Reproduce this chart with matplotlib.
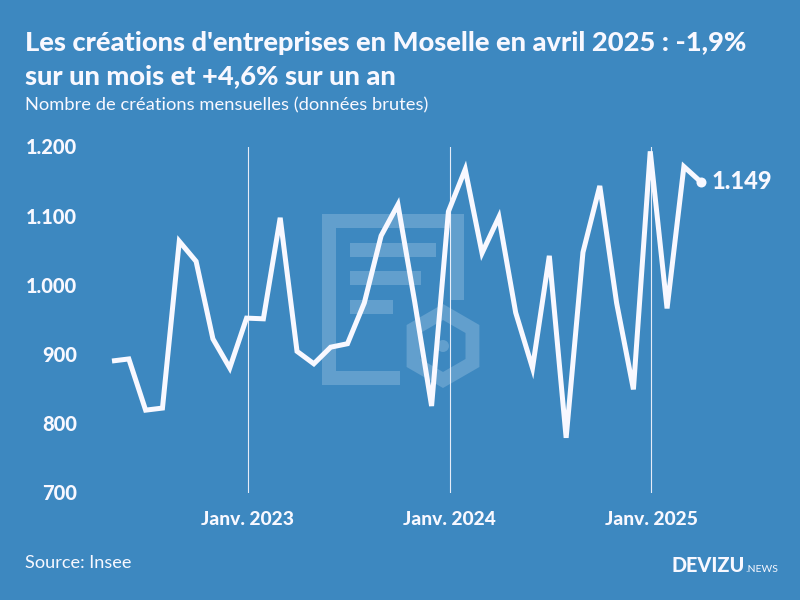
import matplotlib
matplotlib.use("Agg")
import matplotlib.pyplot as plt
from matplotlib.patches import Polygon, Rectangle, RegularPolygon, Circle
import numpy as np

months = ["2022-05", "2022-06", "2022-07", "2022-08", "2022-09", "2022-10", "2022-11", "2022-12",
          "2023-01", "2023-02", "2023-03", "2023-04", "2023-05", "2023-06", "2023-07", "2023-08",
          "2023-09", "2023-10", "2023-11", "2023-12", "2024-01", "2024-02", "2024-03", "2024-04",
          "2024-05", "2024-06", "2024-07", "2024-08", "2024-09", "2024-10", "2024-11", "2024-12",
          "2025-01", "2025-02", "2025-03", "2025-04"]
creations = [890, 893, 819, 822, 1063, 1034, 922, 880,
             952, 951, 1097, 904, 886, 910, 915, 974,
             1071, 1116, 975, 825, 1106, 1167, 1046, 1098,
             960, 880, 1042, 779, 1047, 1143, 974, 849,
             1193, 966, 1171, 1149]
y_ticks = [700, 800, 900, 1000, 1100, 1200]
y_labels = ["700", "800", "900", "1.000", "1.100", "1.200"]
year_months = ["2023-01", "2024-01", "2025-01"]
year_labels = ["Janv. 2023", "Janv. 2024", "Janv. 2025"]

BG = "#3d88c0"
WHITE = "#f8f8ff"
MARK = "#629fcd"
plt.rcParams["font.family"] = "Lato"

W, H = 800, 600
fig = plt.figure(figsize=(W / 100, H / 100), dpi=100, facecolor=BG)

# watermark logo, in pixel coordinates
bg = fig.add_axes([0, 0, 1, 1])
bg.set_xlim(0, W)
bg.set_ylim(H, 0)
bg.axis("off")
doc = [(322, 214), (464, 214), (464, 300), (450, 300), (450, 228), (336, 228),
       (336, 371), (400, 371), (400, 385), (322, 385)]
bg.add_patch(Polygon(doc, closed=True, fc=MARK, ec="none"))
for x0, x1, y0 in [(350, 436, 243), (350, 421, 271), (350, 393, 300)]:
    bg.add_patch(Rectangle((x0, y0), x1 - x0, 14, fc=MARK, ec="none"))
bg.add_patch(RegularPolygon((443, 346), 6, radius=34, fc="none", ec=MARK, lw=10))
bg.add_patch(Circle((443, 346), 6, fc=MARK, ec="none"))

ax = fig.add_axes([112 / W, (H - 492.5) / H, 588.7 / W, 346 / H])
ax.patch.set_visible(False)
x = np.arange(len(months))
# year rules sit about a pixel right of the data points in the original
year_pos = [months.index(m) + 0.07 for m in year_months]

for p in year_pos:
    ax.axvline(p, color=WHITE, lw=0.8, alpha=0.9, zorder=1)
ax.plot(x, creations, color=WHITE, lw=3.6, solid_joinstyle="miter", solid_capstyle="butt",
        clip_on=False, zorder=3)
ax.plot(x[-1], creations[-1], "o", color=WHITE, ms=7.2, mew=0, clip_on=False, zorder=4)
ax.annotate("1.149", (x[-1], creations[-1]), xytext=(8, 0), textcoords="offset points",
            color=WHITE, fontsize=17, fontweight=900, va="center", ha="left")

ax.set_xlim(0, len(months) - 1)
ax.set_ylim(700, 1200)
ax.set_yticks(y_ticks, y_labels)
ax.set_xticks(year_pos, year_labels)
ax.tick_params(axis="y", length=0, pad=25, labelcolor=WHITE, labelsize=14.4)
ax.tick_params(axis="x", length=0, pad=13, labelcolor=WHITE, labelsize=13.8)
for lab in ax.get_xticklabels() + ax.get_yticklabels():
    lab.set_fontweight(900)
for s in ax.spines.values():
    s.set_visible(False)

fig.text(25 / W, 1 - 43 / H, "Les créations d'entreprises en Moselle en avril 2025 : -1,9%",
         color=WHITE, fontsize=19.65, fontweight=900, va="center", ha="left")
fig.text(25 / W, 1 - 76 / H, "sur un mois et +4,6% sur un an",
         color=WHITE, fontsize=19.65, fontweight=900, va="center", ha="left")
fig.text(25 / W, 1 - 105 / H, "Nombre de créations mensuelles (données brutes)",
         color=WHITE, fontsize=13.2, va="center", ha="left")
fig.text(25 / W, 1 - 563 / H, "Source: Insee", color=WHITE, fontsize=13.1, va="center", ha="left")
fig.text(745 / W, 1 - 566 / H, "DEVIZU", color=WHITE, fontsize=14.3, fontweight=900,
         va="center", ha="right")
fig.text(745 / W, 1 - 570 / H, ".NEWS", color=WHITE, fontsize=7.5,
         va="center", ha="left")

fig.savefig("out.png", dpi=100, facecolor=BG)
